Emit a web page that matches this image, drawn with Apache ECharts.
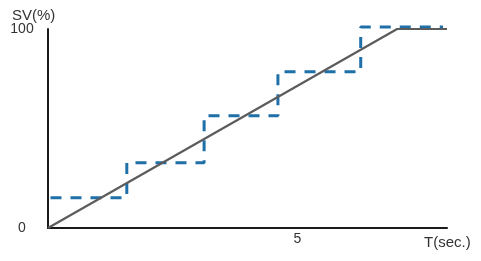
<!DOCTYPE html>
<html>
<head>
<meta charset="utf-8">
<script src="https://cdn.jsdelivr.net/npm/echarts@6/dist/echarts.min.js"></script>
<style>
html,body{margin:0;padding:0;background:#fff;}
#c{width:481px;height:261px;}
</style>
</head>
<body>
<div id="c"></div>
<script>
// Data
var rampTimes = [0, 7, 8];
var rampValues = [0, 100, 100];
var stepTimes = [0.05, 1.58, 3.13, 4.61, 6.27, 7.92];
var stepValues = [15.2, 32.8, 56.4, 78.5, 101, 101];
var xTickLabels = ['5'];
var yTickLabels = ['0', '100'];
var xName = 'T(sec.)';
var yName = 'SV(%)';

var FONT = '"Liberation Sans", Arial, sans-serif';
var chart = echarts.init(document.getElementById('c'), null, {renderer: 'canvas'});

function zip(a, b) { return a.map(function (v, i) { return [v, b[i]]; }); }

chart.setOption({
  animation: false,
  backgroundColor: '#ffffff',
  grid: {left: 48, right: 34, top: 29, bottom: 33},
  xAxis: {
    type: 'value', min: 0, max: 8, interval: 1,
    axisLine: {show: true, lineStyle: {color: '#1a1a1a', width: 2}},
    axisTick: {show: false},
    splitLine: {show: false},
    axisLabel: {
      margin: 4, color: '#333', fontSize: 14, fontFamily: FONT,
      formatter: function (v) { return xTickLabels.indexOf(String(v)) >= 0 ? String(v) : ''; }
    }
  },
  yAxis: {
    type: 'value', min: 0, max: 100, interval: 100,
    axisLine: {show: true, lineStyle: {color: '#1a1a1a', width: 2}},
    axisTick: {show: false},
    splitLine: {show: false},
    axisLabel: {
      margin: 26, align: 'center', color: '#333', fontSize: 14, fontFamily: FONT,
      formatter: function (v) { return yTickLabels.indexOf(String(v)) >= 0 ? String(v) : ''; }
    }
  },
  graphic: [
    {type: 'text', left: 12, top: 8, style: {text: yName, fill: '#333', font: '15px ' + FONT}},
    {type: 'text', left: 424, top: 235, style: {text: xName, fill: '#333', font: '15px ' + FONT}}
  ],
  series: [
    {
      type: 'line', data: zip(stepTimes, stepValues), step: 'end',
      symbol: 'none', z: 2, clip: false,
      lineStyle: {color: '#1f6fa9', width: 3, type: [11, 9]}
    },
    {
      type: 'line', data: zip(rampTimes, rampValues),
      symbol: 'none', z: 3,
      lineStyle: {color: '#5c5c5c', width: 2.2}
    }
  ]
});
</script>
</body>
</html>
